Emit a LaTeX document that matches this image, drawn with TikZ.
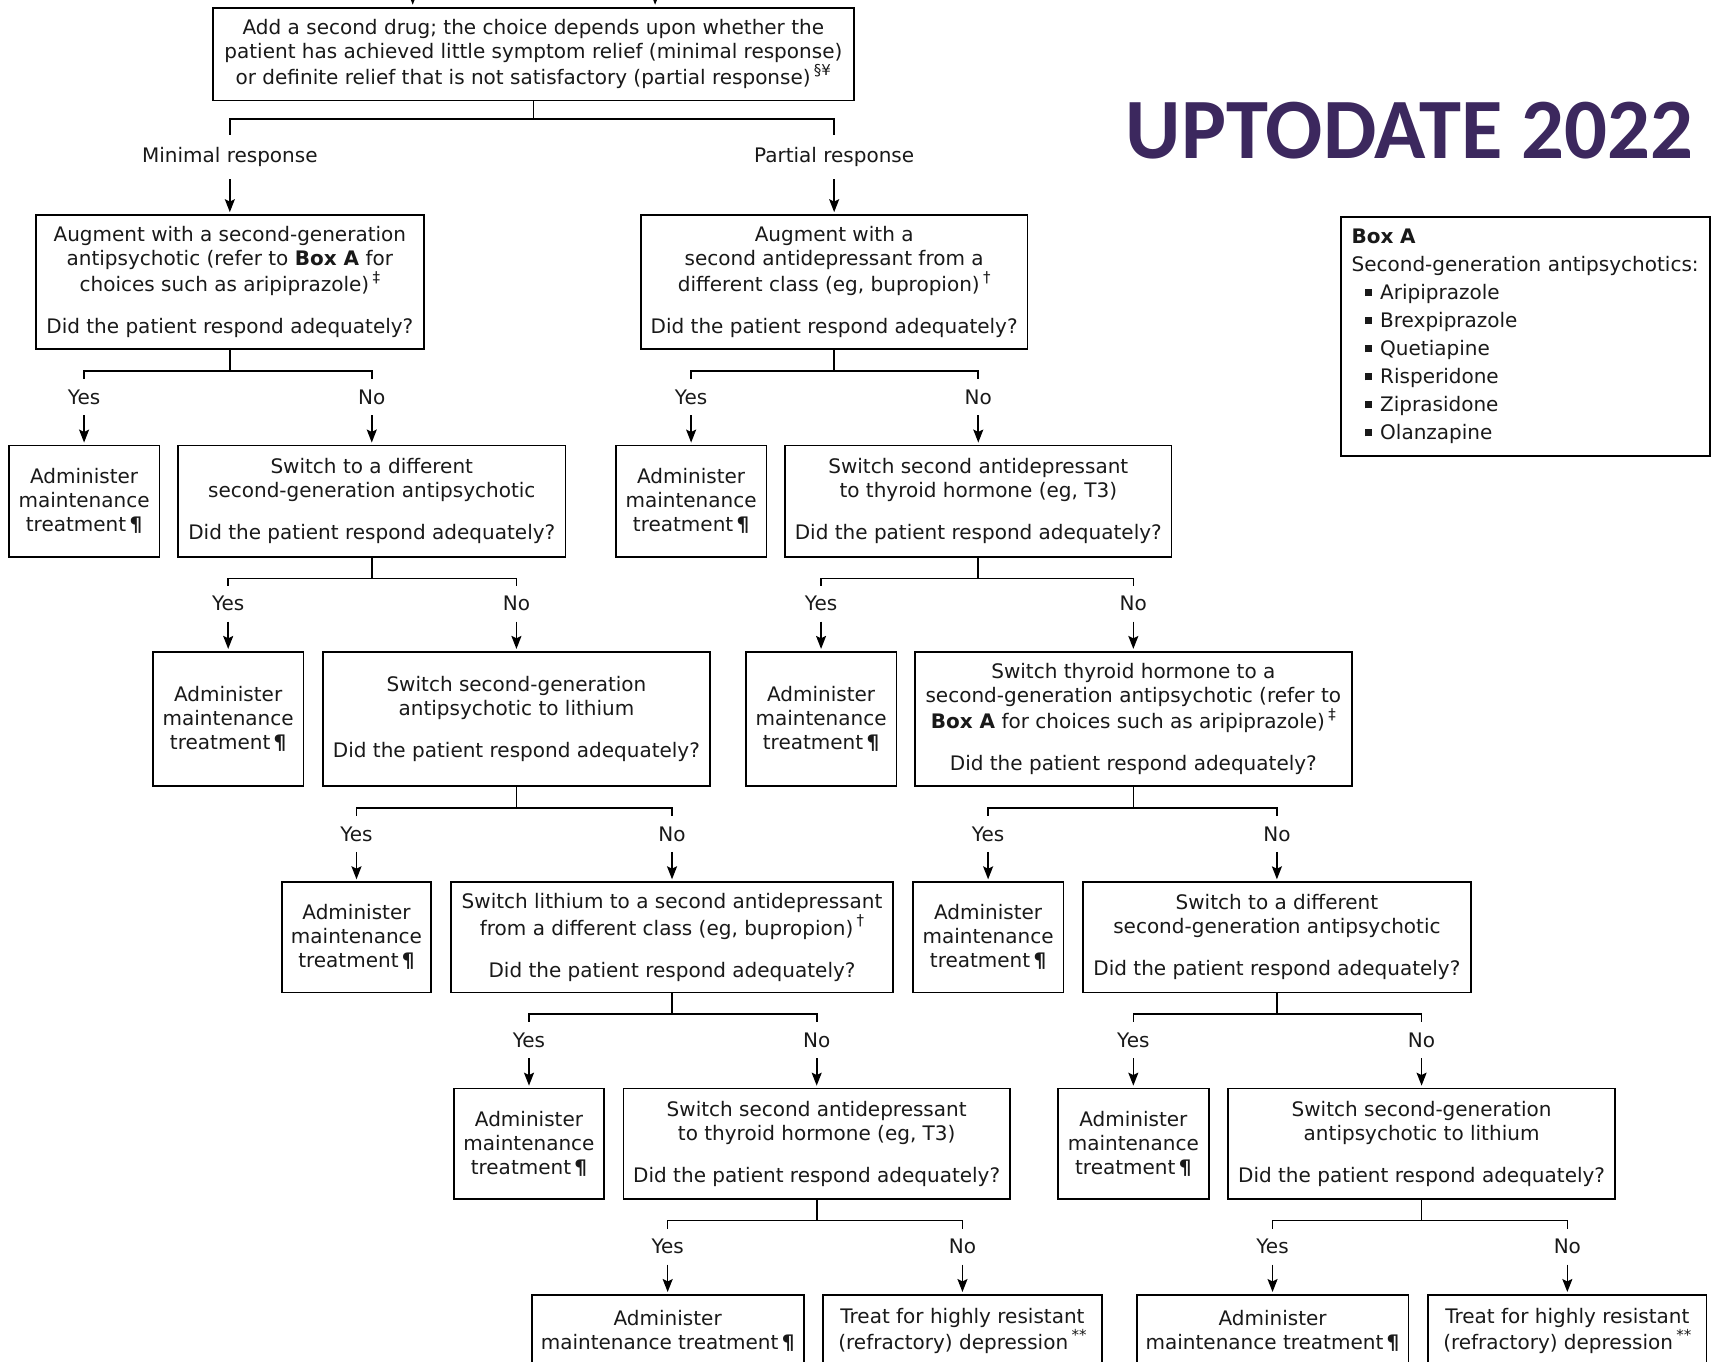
\documentclass[tikz,border=0pt]{standalone}
\usepackage{fontspec}
\setmainfont{DejaVu Sans}
\newfontfamily\titlefont{Carlito}
\usetikzlibrary{arrows.meta,positioning}
\definecolor{titlepurple}{RGB}{60,40,94}
\definecolor{ink}{RGB}{25,25,25}
\def\uu{0.5459pt}
\newcommand\bx[6]{\node[box, minimum width={(#4-#2)*\uu}, minimum height={(#5-#3)*\uu}] (#1) at ({(#2+#4)/2},{(#3+#5)/2}) {#6};}
\newcommand\bul{\hspace*{6.5pt}\rule[1.8pt]{3.6pt}{3.6pt}\hspace{4.2pt}}
\newcommand\sups[1]{\,\raisebox{0.85ex}{\fontsize{7.5}{7.5}\selectfont #1}}
\newcommand\pil{\,\textbf{¶}}
\newcommand\did{\\[9pt]Did the patient respond adequately?}
\newcommand\adm{Administer\\maintenance\\treatment\pil}
\tikzset{
  box/.style={draw, line width=0.9pt, align=center, inner sep=2pt, text=ink, font=\fontsize{10}{12}\selectfont},
  lab/.style={inner sep=0pt, minimum height=17.5pt, text=ink, font=\fontsize{10}{12}\selectfont},
  toplab/.style={inner sep=0pt, minimum height=21.8pt, text=ink, font=\fontsize{10}{12}\selectfont},
  ln/.style={line width=0.8pt},
  arr/.style={line width=0.8pt, -{Stealth[length=6.5pt,width=5pt,inset=1.2pt]}, shorten >=1pt}
}
\begin{document}
\begin{tikzpicture}[x=0.5459pt,y=-0.5459pt]
\clip (0,0) rectangle (1568,1247);
\fill[white] (0,0) rectangle (1568,1247);

% title
\node[font=\titlefont\bfseries\fontsize{43}{48}\selectfont, text=titlepurple, xscale=0.985] (title) at (1291,119.5) {UPTODATE 2022};

% Box A
\node[box, anchor=north west, align=left, inner xsep=5.5pt, text width=173.5pt, minimum height={219*\uu}, font=\fontsize{10}{14}\selectfont] (boxA) at (1227,198)
 {\textbf{Box A}\\\mbox{Second-generation antipsychotics:}\\\bul Aripiprazole\\\bul Brexpiprazole\\\bul Quetiapine\\\bul Risperidone\\\bul Ziprasidone\\\bul Olanzapine};

% top box
\bx{top}{195}{7}{782}{92}{Add a second drug; the choice depends upon whether the\\patient has achieved little symptom relief (minimal response)\\or definite relief that is not satisfactory (partial response)\sups{§¥}}
\coordinate (in1) at (378,-40);
\coordinate (in2) at (600,-40);
\draw[arr] (in1) -- (in1 |- top.north);
\draw[arr] (in2) -- (in2 |- top.north);

% row 1
\bx{L1}{33}{197}{388}{320}{Augment with a second-generation\\antipsychotic (refer to \textbf{Box A} for\\choices such as aripiprazole)\sups{‡}\did}
\bx{R1}{587}{197}{941}{320}{Augment with a\\second antidepressant from a\\different class (eg, bupropion)\sups{†}\did}
\node[toplab, above=17.5pt of L1] (lmin) {Minimal response};
\node[toplab, above=17.5pt of R1] (lpar) {Partial response};
\draw[ln] (top.south) -- ++(0,16) -| (lmin.north);
\draw[ln] (top.south) -- ++(0,16) -| (lpar.north);
\draw[arr] (lmin.south) -- (L1.north);
\draw[arr] (lpar.south) -- (R1.north);

% row 2
\bx{L1Y}{8}{408}{146}{510}{\adm}
\bx{L1N}{163}{408}{518}{510}{Switch to a different\\second-generation antipsychotic\did}
\bx{R1Y}{564}{408}{702}{510}{\adm}
\bx{R1N}{719}{408}{1073}{510}{Switch second antidepressant\\to thyroid hormone (eg, T3)\did}

% row 3
\bx{L2Y}{140}{597}{278}{720}{\adm}
\bx{L2N}{296}{597}{650}{720}{Switch second-generation\\antipsychotic to lithium\did}
\bx{R2Y}{683}{597}{821}{720}{\adm}
\bx{R2N}{838}{597}{1238}{720}{Switch thyroid hormone to a\\second-generation antipsychotic (refer to\\\textbf{Box A} for choices such as aripiprazole)\sups{‡}\did}

% row 4
\bx{L3Y}{258}{808}{395}{909}{\adm}
\bx{L3N}{413}{808}{818}{909}{Switch lithium to a second antidepressant\\from a different class (eg, bupropion)\sups{†}\did}
\bx{R3Y}{836}{808}{974}{909}{\adm}
\bx{R3N}{992}{808}{1347}{909}{Switch to a different\\second-generation antipsychotic\did}

% row 5
\bx{L4Y}{416}{997}{553}{1098}{\adm}
\bx{L4N}{571}{997}{925}{1098}{Switch second antidepressant\\to thyroid hormone (eg, T3)\did}
\bx{R4Y}{969}{997}{1107}{1098}{\adm}
\bx{R4N}{1125}{997}{1479}{1098}{Switch second-generation\\antipsychotic to lithium\did}

% row 6
\bx{L5Y}{487}{1186}{736}{1252}{Administer\\maintenance treatment\pil}
\bx{L5N}{754}{1186}{1009}{1252}{Treat for highly resistant\\(refractory) depression\sups{**}}
\bx{R5Y}{1041}{1186}{1290}{1252}{Administer\\maintenance treatment\pil}
\bx{R5N}{1308}{1186}{1563}{1252}{Treat for highly resistant\\(refractory) depression\sups{**}}

% branches
\foreach \p/\y/\n in {L1/L1Y/L1N, R1/R1Y/R1N, L1N/L2Y/L2N, R1N/R2Y/R2N, L2N/L3Y/L3N, R2N/R3Y/R3N, L3N/L4Y/L4N, R3N/R4Y/R4N, L4N/L5Y/L5N, R4N/R5Y/R5N}{
  \node[lab, above=14.7pt of \y] (\y-lab) {Yes};
  \node[lab, above=14.7pt of \n] (\n-lab) {No};
  \draw[ln] (\p.south) -- ++(0,19) -| (\y-lab.north);
  \draw[ln] (\p.south) -- ++(0,19) -| (\n-lab.north);
  \draw[arr] (\y-lab.south) -- (\y.north);
  \draw[arr] (\n-lab.south) -- (\n.north);
}
\end{tikzpicture}
\end{document}
